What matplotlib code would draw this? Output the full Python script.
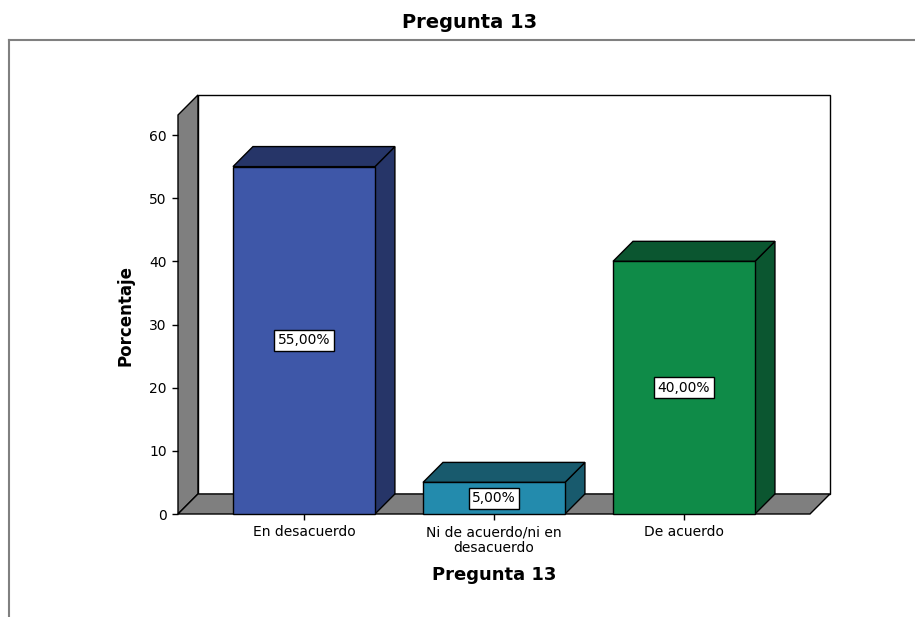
import matplotlib
matplotlib.use('Agg')
import matplotlib.pyplot as plt
from matplotlib.patches import Polygon, Rectangle
from matplotlib.lines import Line2D

# data
categories = ['En desacuerdo', 'Ni de acuerdo/ni en\ndesacuerdo', 'De acuerdo']
percentages = [55.0, 5.0, 40.0]
value_labels = ['55,00%', '5,00%', '40,00%']
y_ticks = [0, 10, 20, 30, 40, 50, 60]

front_colors = ['#3e57a8', '#238bad', '#0f8b48']
shade_colors = ['#263568', '#185a6d', '#0b5630']
wall_color = '#7f7f7f'

# layout of the pseudo-3d box (data units)
X_MIN, X_MAX = -0.663, 2.663
Y_MAX = 63.17
DX, DY = 0.105, 3.17
BAR_W = 0.747


def main():
    fig = plt.figure(figsize=(9.15, 6.17), dpi=100)
    ax = fig.add_axes([178 / 915, 103 / 617, 632 / 915, 399 / 617])
    ax.set_xlim(X_MIN, X_MAX)
    ax.set_ylim(0, Y_MAX)
    ax.patch.set_visible(False)
    for s in ax.spines.values():
        s.set_visible(False)

    # back wall, left wall, floor
    ax.add_patch(Rectangle((X_MIN + DX, DY), X_MAX - X_MIN, Y_MAX,
                           fc='white', ec='black', lw=1, clip_on=False, zorder=0))
    ax.add_patch(Polygon([(X_MIN, 0), (X_MIN + DX, DY), (X_MIN + DX, Y_MAX + DY), (X_MIN, Y_MAX)],
                         fc=wall_color, ec='black', lw=1, clip_on=False, zorder=1))
    ax.add_patch(Polygon([(X_MIN, 0), (X_MAX, 0), (X_MAX + DX, DY), (X_MIN + DX, DY)],
                         fc=wall_color, ec='black', lw=1, clip_on=False, zorder=1))

    xs = list(range(len(categories)))
    for x, v, fc, sc in zip(xs, percentages, front_colors, shade_colors):
        l, r = x - BAR_W / 2, x + BAR_W / 2
        ax.add_patch(Polygon([(r, 0), (r + DX, DY), (r + DX, v + DY), (r, v)],
                             fc=sc, ec='black', lw=1, clip_on=False, zorder=2))
        ax.add_patch(Polygon([(l, v), (r, v), (r + DX, v + DY), (l + DX, v + DY)],
                             fc=sc, ec='black', lw=1, clip_on=False, zorder=2))
    ax.bar(xs, percentages, width=BAR_W, color=front_colors, edgecolor='black',
           linewidth=1, zorder=3, clip_on=False)

    for x, v, lab in zip(xs, percentages, value_labels):
        ax.text(x, v / 2, lab, ha='center', va='center', fontsize=10, zorder=5,
                bbox=dict(boxstyle='square,pad=0.25', fc='white', ec='black', lw=1))

    ax.set_xticks(xs, categories, fontsize=10)
    ax.set_yticks(y_ticks, [str(t) for t in y_ticks], fontsize=10)
    ax.tick_params(axis='both', direction='out', length=4.5, width=1, color='black')

    fig.text(470 / 915, 1 - 22 / 617, 'Pregunta 13', ha='center', va='center',
             fontsize=14, fontweight='bold')
    fig.text(494 / 915, 1 - 575 / 617, 'Pregunta 13', ha='center', va='center',
             fontsize=13, fontweight='bold')
    fig.text(125 / 915, 1 - 315 / 617, 'Porcentaje', ha='center', va='center',
             rotation=90, fontsize=12, fontweight='bold')

    # outer frame (top and left edges only are visible)
    fig.add_artist(Line2D([9 / 915, 1], [1 - 40 / 617, 1 - 40 / 617], color='#808080', lw=1.5))
    fig.add_artist(Line2D([9 / 915, 9 / 915], [0, 1 - 40 / 617], color='#808080', lw=1.5))

    fig.savefig('out.png', dpi=100)
    plt.close(fig)


if __name__ == '__main__':
    main()
